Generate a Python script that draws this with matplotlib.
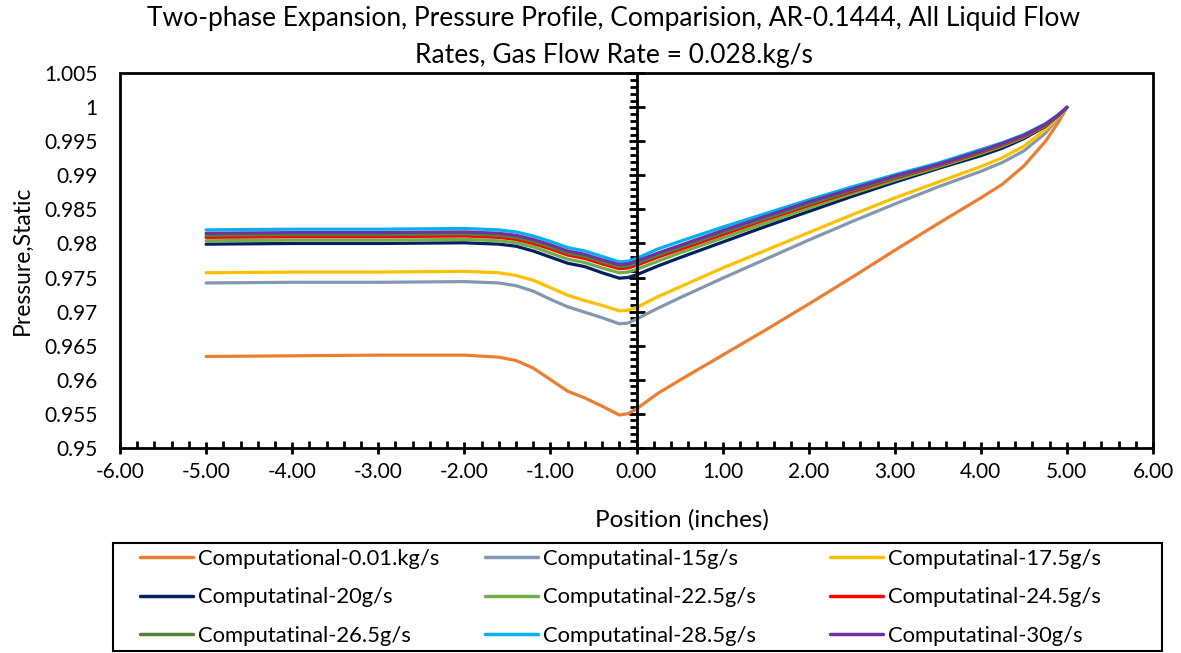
import matplotlib
matplotlib.use('Agg')
import matplotlib.pyplot as plt
from matplotlib.ticker import MultipleLocator, FuncFormatter
from matplotlib.patches import Rectangle

plt.rcParams['font.family'] = ['Lato', 'DejaVu Sans']

# position along the nozzle (inches)
x = [-5, -4, -3, -2, -1.6, -1.4, -1.2, -1.0, -0.8, -0.6, -0.4, -0.2, -0.1, 0,
     0.25, 0.5, 1, 1.5, 2, 2.5, 3, 3.5, 4, 4.25, 4.5, 4.75, 4.9, 5]

p_001kg = [0.9634, 0.9635, 0.9636, 0.9636, 0.9633, 0.9628, 0.9617, 0.9600, 0.9583, 0.9573, 0.9561, 0.9548, 0.9550, 0.9557,
           0.9580, 0.9599, 0.9636, 0.9673, 0.9711, 0.9750, 0.9790, 0.9829, 0.9867, 0.9887, 0.9914, 0.9950, 0.9978, 1.0]
p_15g = [0.9742, 0.9743, 0.9743, 0.9744, 0.9742, 0.9738, 0.9730, 0.9718, 0.9707, 0.9699, 0.9691, 0.9682, 0.9683, 0.9689,
         0.9705, 0.9720, 0.9749, 0.9777, 0.9805, 0.9832, 0.9858, 0.9883, 0.9906, 0.9919, 0.9936, 0.9962, 0.9985, 1.0]
p_175g = [0.9757, 0.9758, 0.9758, 0.9759, 0.9757, 0.9753, 0.9746, 0.9735, 0.9724, 0.9716, 0.9709, 0.9701, 0.9702, 0.9706,
          0.9722, 0.9736, 0.9764, 0.9790, 0.9816, 0.9842, 0.9867, 0.9890, 0.9913, 0.9926, 0.9943, 0.9967, 0.9986, 1.0]
p_20g = [0.9799, 0.9800, 0.9800, 0.9801, 0.9799, 0.9796, 0.9789, 0.9780, 0.9771, 0.9766, 0.9757, 0.9749, 0.9750, 0.9754,
         0.9767, 0.9779, 0.9802, 0.9825, 0.9847, 0.9869, 0.9890, 0.9910, 0.9929, 0.9940, 0.9954, 0.9972, 0.9988, 1.0]
p_225g = [0.9804, 0.9805, 0.9805, 0.9806, 0.9804, 0.9801, 0.9795, 0.9786, 0.9777, 0.9772, 0.9764, 0.9757, 0.9758, 0.9762,
          0.9774, 0.9786, 0.9808, 0.9830, 0.9852, 0.9873, 0.9893, 0.9912, 0.9932, 0.9943, 0.9956, 0.9973, 0.9988, 1.0]
p_245g = [0.9809, 0.9810, 0.9810, 0.9811, 0.9809, 0.9806, 0.9800, 0.9792, 0.9783, 0.9778, 0.9770, 0.9763, 0.9764, 0.9768,
          0.9780, 0.9791, 0.9813, 0.9835, 0.9856, 0.9876, 0.9896, 0.9914, 0.9934, 0.9945, 0.9957, 0.9974, 0.9988, 1.0]
p_265g = [0.9812, 0.9813, 0.9813, 0.9814, 0.9812, 0.9809, 0.9803, 0.9795, 0.9786, 0.9781, 0.9773, 0.9766, 0.9767, 0.9771,
          0.9783, 0.9794, 0.9816, 0.9837, 0.9858, 0.9878, 0.9897, 0.9915, 0.9935, 0.9946, 0.9958, 0.9975, 0.9988, 1.0]
p_285g = [0.9820, 0.9821, 0.9821, 0.9822, 0.9820, 0.9817, 0.9811, 0.9803, 0.9794, 0.9789, 0.9781, 0.9773, 0.9774, 0.9778,
          0.9792, 0.9803, 0.9824, 0.9844, 0.9864, 0.9883, 0.9901, 0.9918, 0.9938, 0.9948, 0.9960, 0.9976, 0.9989, 1.0]
p_30g = [0.9815, 0.9816, 0.9816, 0.9817, 0.9815, 0.9812, 0.9806, 0.9798, 0.9789, 0.9784, 0.9776, 0.9769, 0.9770, 0.9774,
         0.9786, 0.9797, 0.9819, 0.9840, 0.9861, 0.9880, 0.9899, 0.9916, 0.9936, 0.9947, 0.9959, 0.9975, 0.9989, 1.0]

labels = ['Computational-0.01.kg/s', 'Computatinal-15g/s', 'Computatinal-17.5g/s',
          'Computatinal-20g/s', 'Computatinal-22.5g/s', 'Computatinal-24.5g/s',
          'Computatinal-26.5g/s', 'Computatinal-28.5g/s', 'Computatinal-30g/s']
series = [p_001kg, p_15g, p_175g, p_20g, p_225g, p_245g, p_265g, p_285g, p_30g]
colors = ['#ED7D31', '#8497B0', '#FFC000', '#002060', '#70AD47',
          '#FF0000', '#548235', '#00B0F0', '#7030A0']

fig = plt.figure(figsize=(11.81, 6.53), dpi=100)
ax = fig.add_axes([120/1181, 1 - 447.7/653, (1153-120)/1181, (447.7-73.3)/653])

lines = []
for y, c, lab in zip(series, colors, labels):
    ln, = ax.plot(x, y, color=c, lw=2.3, label=lab, solid_capstyle='round',
                  solid_joinstyle='round')
    lines.append(ln)

ax.set_xlim(-6, 6)
ax.set_ylim(0.95, 1.005)

# y axis crosses at x = 0, labels stay on the left edge
for s in ['top', 'right', 'bottom']:
    ax.spines[s].set_visible(False)
ax.spines['left'].set_position(('data', 0))
ax.spines['left'].set_linewidth(2)
ax.add_patch(Rectangle((0, 0), 1, 1, transform=ax.transAxes, fill=False,
                       lw=2, ec='black', clip_on=False, zorder=5))

ax.xaxis.set_major_locator(MultipleLocator(1))
ax.xaxis.set_minor_locator(MultipleLocator(0.2))
ax.yaxis.set_major_locator(MultipleLocator(0.005))
ax.yaxis.set_minor_locator(MultipleLocator(0.001))
ax.tick_params(axis='x', which='major', direction='inout', length=9, width=2,
               labelsize=15, pad=6)
ax.tick_params(axis='x', which='minor', direction='in', length=5, width=2)
ax.tick_params(axis='y', which='major', direction='inout', length=12, width=2,
               labelleft=False)
ax.tick_params(axis='y', which='minor', direction='out', length=5, width=2)
ax.xaxis.set_major_formatter(FuncFormatter(lambda v, p: f'{v:.2f}'))

# overlay axes sharing y to place the value labels at the left border
ax2 = fig.add_axes(ax.get_position(), sharey=ax, frameon=False)
ax2.set_xticks([])
ax2.tick_params(axis='y', which='both', length=0, labelsize=15, pad=16)
ax2.yaxis.set_major_formatter(FuncFormatter(lambda v, p: f'{round(v, 3):g}'))
ax2.patch.set_visible(False)

fig.text(22/1181, 1 - 260/653, 'Pressure,Static', rotation=90, ha='center',
         va='center', fontsize=16.5)
fig.text(682/1181, 1 - 520/653, 'Position (inches)', ha='center', va='center',
         fontsize=17.5)
fig.text(614/1181, 1 - 37/653,
         'Two-phase Expansion, Pressure Profile, Comparision, AR-0.1444, All Liquid Flow\n'
         'Rates, Gas Flow Rate = 0.028.kg/s',
         ha='center', va='center', fontsize=19, linespacing=1.6)

# legend: three columns filled row by row, inside one black frame
col_x = [140, 485, 830]
for j, cx in enumerate(col_x):
    leg = fig.legend(handles=lines[j::3], loc='upper left',
                     bbox_to_anchor=(cx/1181, 1 - 549/653), fontsize=15.8,
                     frameon=False, handlelength=2.42, handletextpad=0.23,
                     labelspacing=0.84, borderpad=0, borderaxespad=0)
    for h in leg.legend_handles:
        h.set_linewidth(2.5)
fig.add_artist(Rectangle((113/1181, 1 - 651/653), (1162-113)/1181, (651-543)/653,
                         transform=fig.transFigure, fill=False, lw=1.5, ec='black'))

fig.savefig('out.png', dpi=100)
